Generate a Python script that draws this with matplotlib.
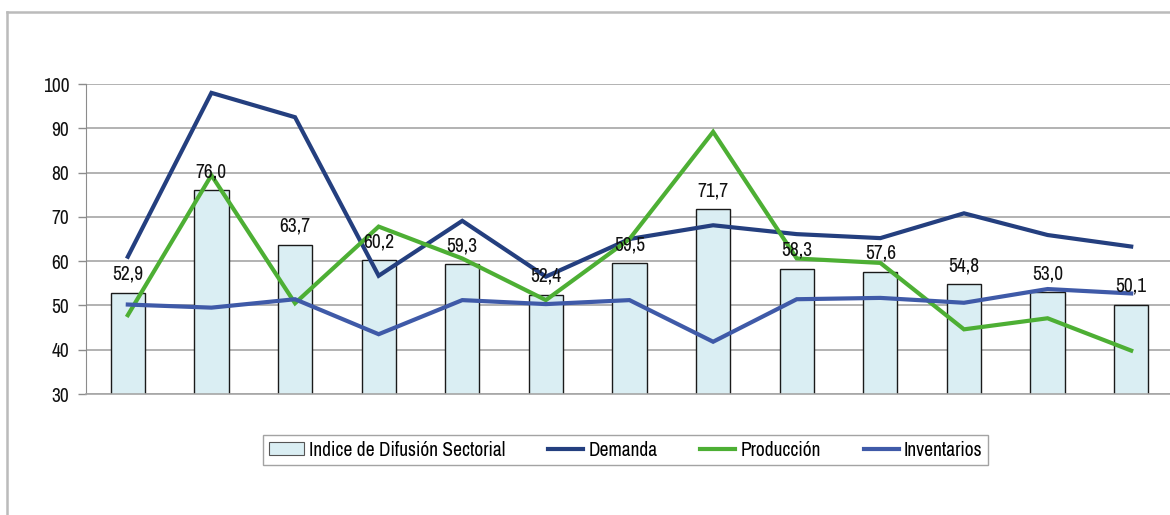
import matplotlib
matplotlib.use("Agg")
import matplotlib.pyplot as plt
from matplotlib.lines import Line2D
from matplotlib.patches import Patch
from matplotlib import font_manager as fm
import numpy as np

names = sorted({f.name for f in fm.fontManager.ttflist})
if "Liberation Sans Narrow" in names:
    fam = "Liberation Sans Narrow"
else:
    narrow = [n for n in names if "Narrow" in n or "Condensed" in n]
    fam = narrow[0] if narrow else "Liberation Sans"
is_narrow = fam != "Liberation Sans"
plt.rcParams['font.family'] = [fam, 'Liberation Sans', 'DejaVu Sans']

indice = [52.9, 76.0, 63.7, 60.2, 59.3, 52.4, 59.5, 71.7, 58.3, 57.6, 54.8, 53.0, 50.1]
demanda = [61.0, 98.0, 92.5, 56.7, 69.1, 56.5, 65.0, 68.1, 66.1, 65.2, 70.8, 65.9, 63.3]
produccion = [47.8, 79.4, 50.5, 67.8, 60.6, 51.2, 65.0, 89.2, 60.6, 59.6, 44.6, 47.1, 39.8]
inventarios = [50.2, 49.5, 51.4, 43.5, 51.2, 50.3, 51.2, 41.8, 51.4, 51.7, 50.6, 53.7, 52.7]
yticks = [30, 40, 50, 60, 70, 80, 90, 100]
labels = ["Indice de Difusión Sectorial", "Demanda", "Producción", "Inventarios"]

c_bar = "#DAEEF3"
c_dem = "#243F7F"
c_prod = "#4DAF34"
c_inv = "#3F5AA8"

W, H = 1170, 515
fig = plt.figure(figsize=(W / 100, H / 100), dpi=100)
fig.patch.set_facecolor("white")

left, right, top, bottom = 86, 1173, 84, 394
ax = fig.add_axes([left / W, (H - bottom) / H, (right - left) / W, (bottom - top) / H])

x = np.arange(len(indice))
ax.bar(x, indice, width=0.41, bottom=0, color=c_bar, edgecolor="#1a1a1a", linewidth=1.0, zorder=2)
ax.plot(x, demanda, color=c_dem, lw=3.0, zorder=3, solid_joinstyle="miter")
ax.plot(x, produccion, color=c_prod, lw=3.0, zorder=3, solid_joinstyle="miter")
ax.plot(x, inventarios, color=c_inv, lw=3.0, zorder=3, solid_joinstyle="miter")

fs = 14 if is_narrow else 12.5
for xi, v in zip(x, indice):
    ax.annotate(f"{v:.1f}".replace(".", ","), (xi, v), xytext=(0, 6.5), textcoords="offset points",
                ha="center", va="bottom", fontsize=fs, color="#111111", zorder=4)

ax.set_xlim(-0.5, len(indice) - 0.5)
ax.set_ylim(30, 100)
ax.set_yticks(yticks)
ax.set_xticks([])
ax.grid(axis="y", color="#A6A6A6", lw=1.2, zorder=0)
ax.set_axisbelow(True)
for s in ["top", "right"]:
    ax.spines[s].set_visible(False)
ax.spines["left"].set_color("#8C8C8C")
ax.spines["bottom"].set_color("#A6A6A6")
ax.spines["bottom"].set_linewidth(1.2)
ax.tick_params(axis="y", length=6, width=1, color="#8C8C8C", pad=6, labelsize=fs, labelcolor="#111111")
ax.set_facecolor("none")

handles = [Patch(facecolor=c_bar, edgecolor="#555555", linewidth=0.8),
           Line2D([], [], color=c_dem, lw=3),
           Line2D([], [], color=c_prod, lw=3),
           Line2D([], [], color=c_inv, lw=3)]
lfs = 14 if is_narrow else 12
leg = fig.legend(handles, labels, ncol=4, loc="center",
                 bbox_to_anchor=((263 + 988) / 2 / W, 1 - 450 / H),
                 fontsize=lfs, frameon=True, fancybox=False, edgecolor="#8C8C8C",
                 handlelength=1.8, handleheight=0.62, columnspacing=2.2, handletextpad=0.27,
                 borderpad=0.3, borderaxespad=0)
leg.get_frame().set_linewidth(1.0)

# outer chart-area border (partially cropped)
fig.add_artist(Line2D([7 / W, 1.0], [1 - 12 / H, 1 - 12 / H], color="#BBBBBB", lw=1.8, transform=fig.transFigure))
fig.add_artist(Line2D([7 / W, 7 / W], [0, 1 - 12 / H], color="#BBBBBB", lw=1.8, transform=fig.transFigure))

fig.savefig("out.png", dpi=100, facecolor="white")
